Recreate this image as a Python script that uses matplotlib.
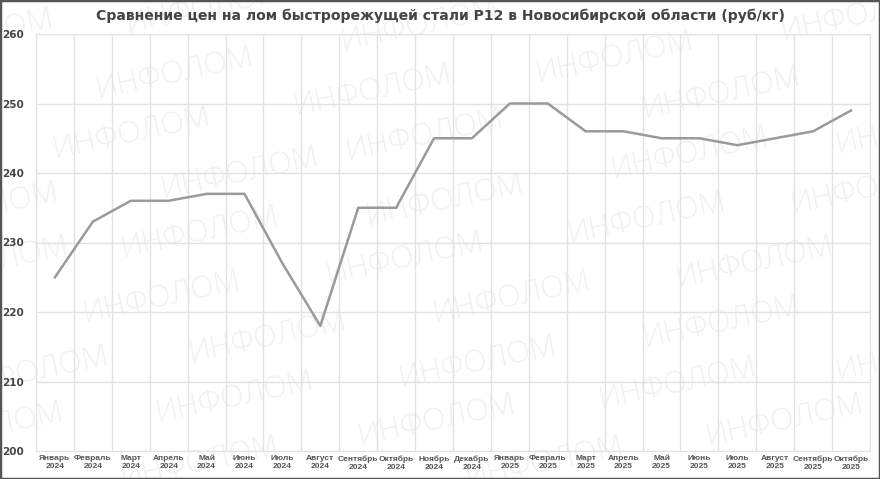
import matplotlib
matplotlib.use("Agg")
import matplotlib.pyplot as plt
from matplotlib.patches import Rectangle

# месяцы и цены (руб/кг)
months = ["Январь", "Февраль", "Март", "Апрель", "Май", "Июнь", "Июль", "Август",
          "Сентябрь", "Октябрь", "Ноябрь", "Декабрь",
          "Январь", "Февраль", "Март", "Апрель", "Май", "Июнь", "Июль", "Август",
          "Сентябрь", "Октябрь"]
years = ["2024"] * 12 + ["2025"] * 10
prices = [225, 233, 236, 236, 237, 237, 227, 218, 235, 235, 245, 245,
          250, 250, 246, 246, 245, 245, 244, 245, 246, 249]

labels = [m + "\n" + y for m, y in zip(months, years)]
x = list(range(len(prices)))

W, H = 880, 479
fig = plt.figure(figsize=(W / 100, H / 100), dpi=100)
ax = fig.add_axes([36 / W, 28 / H, 834 / W, 417 / H])
ax.set_facecolor("none")

# водяной знак
wm_pos = [(175, 73), (132, 133), (240, 173), (200, 232), (205, 8), (373, 90),
          (162, 297), (268, 337), (235, 397), (200, 462), (-25, 35), (-20, 208),
          (-10, 262), (30, 372), (-15, 428), (420, 25), (425, 135), (445, 200),
          (405, 258), (512, 297), (478, 362), (437, 420), (545, 462),
          (615, 57), (722, 93), (690, 153), (647, 218), (755, 262), (722, 322),
          (678, 383), (785, 420), (860, 15), (870, 188), (915, 128), (915, 355)]
for px, py in wm_pos:
    fig.text(px / W, 1 - py / H, "ИНФОЛОМ", fontsize=22, color="#f0f0f0",
             rotation=12, ha="center", va="center", fontweight="light",
             family="Open Sans", zorder=-1)

ax.plot(x, prices, color="#9a9a9a", linewidth=1.8, zorder=3)

ax.set_xlim(-0.5, len(prices) - 0.5)
ax.set_ylim(200, 260)
ax.set_yticks(range(200, 261, 10))
ax.set_xticks(x)
ax.set_xticklabels(labels, fontsize=6, fontweight="bold", color="#555555",
                   linespacing=1.15, family="Liberation Sans")
ax.set_xticks([i + 0.5 for i in range(-1, len(prices))], minor=True)
ax.tick_params(axis="x", which="both", length=0, pad=3)
ax.tick_params(axis="y", length=0, pad=9, labelsize=7.5, labelcolor="#444444")
for t in ax.get_yticklabels():
    t.set_fontweight("bold")

ax.grid(True, axis="y", color="#e2e2e2", linewidth=1)
ax.grid(True, axis="x", which="minor", color="#e2e2e2", linewidth=1)
ax.grid(False, axis="x", which="major")
for s in ax.spines.values():
    s.set_color("#e2e2e2")

fig.text(0.5, 1 - 16 / H, "Сравнение цен на лом быстрорежущей стали Р12 в Новосибирской области (руб/кг)",
         ha="center", va="center", fontsize=10.1, fontweight="bold", color="#444444")

fig.patches.append(Rectangle((0, 0), 1, 1, transform=fig.transFigure, fill=False,
                             edgecolor="#555555", linewidth=2.5))

fig.savefig("out.png", dpi=100)
